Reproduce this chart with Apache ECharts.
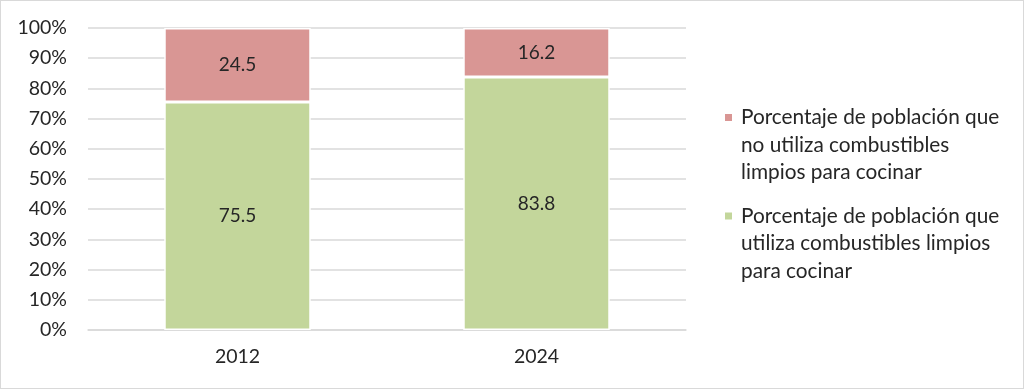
<!DOCTYPE html>
<html><head><meta charset="utf-8">
<script src="https://cdn.jsdelivr.net/npm/echarts@6/dist/echarts.min.js"></script>
<style>html,body{margin:0;padding:0;background:#fff}#c{width:1024px;height:389px;box-sizing:border-box;border:1px solid #d9d9d9}</style>
</head><body><div id="c"></div>
<script>
const categories = ['2012', '2024'];
const noUtiliza = [24.5, 16.2];
const utiliza = [75.5, 83.8];
const yTicks = [0, 10, 20, 30, 40, 50, 60, 70, 80, 90, 100];
const nameNo = 'Porcentaje de población que\nno utiliza combustibles\nlimpios para cocinar';
const nameSi = 'Porcentaje de población que\nutiliza combustibles limpios\npara cocinar';
const font = 'Lato, "Open Sans", sans-serif';
const LH = 27.5;
// icon: square aligned with first text line; invisible slivers stretch bbox to 3 lines
const iconPath = 'path://M0,9 L9,9 L9,18 L0,18 Z M0,0 L0.001,0 L0.001,0.001 Z M0,82.5 L0.001,82.5 L0.001,82.499 Z';
const chart = echarts.init(document.getElementById('c'), null, {renderer: 'canvas'});
chart.setOption({
  animation: false,
  textStyle: {fontFamily: font},
  grid: {left: 87, right: 337, top: 27, bottom: 58},
  legend: {
    orient: 'vertical', left: 717, top: 97,
    data: [nameNo, nameSi], itemWidth: 9, itemHeight: 3 * LH, itemGap: 14,
    icon: iconPath,
    textStyle: {fontSize: 20.8, color: '#262626', lineHeight: LH, fontFamily: font, padding: [0, 0, 0, 3]}
  },
  xAxis: {
    type: 'category', data: categories,
    axisLine: {lineStyle: {color: '#d9d9d9', width: 1.5}},
    axisTick: {length: 7, lineStyle: {color: '#d9d9d9', width: 1.5}},
    axisLabel: {fontSize: 19.5, color: '#262626', margin: 17, fontFamily: font}
  },
  yAxis: {
    type: 'value', min: yTicks[0], max: yTicks[yTicks.length - 1], interval: 10,
    axisLine: {show: false}, axisTick: {show: false},
    splitLine: {lineStyle: {color: '#d9d9d9', width: 1.5}},
    axisLabel: {formatter: '{value}%', fontSize: 19.5, color: '#262626', margin: 21, fontFamily: font}
  },
  series: [
    {name: nameSi, type: 'bar', stack: 't', data: utiliza, barWidth: '49%',
     itemStyle: {color: '#c3d69b', borderColor: '#fff', borderWidth: 1.5},
     label: {show: true, position: 'inside', fontSize: 19, color: '#262626', fontFamily: font, formatter: p => p.value.toFixed(1)}},
    {name: nameNo, type: 'bar', stack: 't', data: noUtiliza, barWidth: '49%',
     itemStyle: {color: '#d99694', borderColor: '#fff', borderWidth: 1.5},
     label: {show: true, position: 'inside', fontSize: 19, color: '#262626', fontFamily: font, formatter: p => p.value.toFixed(1)}}
  ]
});
</script></body></html>
